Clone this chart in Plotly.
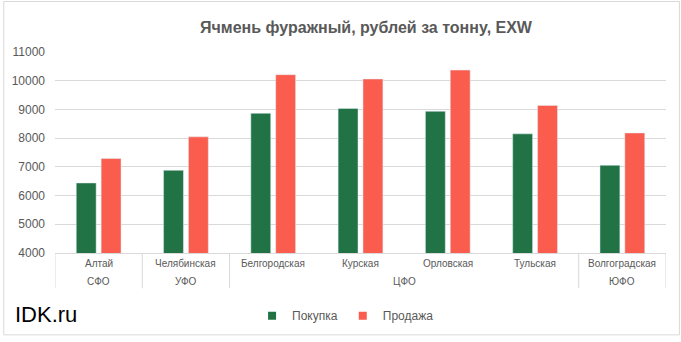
import plotly.graph_objects as go

groups = ["СФО", "УФО", "ЦФО", "ЦФО", "ЦФО", "ЦФО", "ЮФО"]
regions = ["Алтай", "Челябинская", "Белгородская", "Курская", "Орловская", "Тульская", "Волгоградская"]
buy = [6440, 6880, 8865, 9035, 8935, 8150, 7055]
sell = [7290, 8045, 10210, 10060, 10370, 9140, 8180]
series_names = ["Покупка", "Продажа"]
title_text = "Ячмень фуражный, рублей за тонну, EXW"
brand = "IDK.ru"

GREEN = "#217346"
RED = "#FA5D4E"
GRAY = "#595959"
GRID = "#d9d9d9"
FONT = "Liberation Sans"

W, H = 681, 342
L, R, T, B = 52, 15, 52, 85
pw, ph = W - L - R, H - T - B
bottom = T + ph

fig = go.Figure()
fig.add_trace(go.Bar(x=regions, y=buy, name=series_names[0],
                     marker_color=GREEN, showlegend=False))
fig.add_trace(go.Bar(x=regions, y=sell, name=series_names[1],
                     marker_color=RED, showlegend=False))
# legend entries with small square swatches
for nm, col in zip(series_names, [GREEN, RED]):
    fig.add_trace(go.Scatter(x=[None], y=[None], mode="markers", name=nm,
                             marker=dict(symbol="square", size=8, color=col)))

fig.update_layout(
    width=W, height=H,
    margin=dict(l=L, r=R, t=T, b=B),
    paper_bgcolor="white", plot_bgcolor="white",
    barmode="group", bargap=0.43, bargroupgap=0.2,
    font=dict(family=FONT, color=GRAY),
    title=dict(text="<b>" + title_text + "</b>", x=366 / W, xanchor="center",
               y=1 - 27 / H, yanchor="middle",
               font=dict(family=FONT, size=16, color=GRAY)),
    legend=dict(orientation="h", x=(344 - L) / pw, xanchor="center",
                y=-(321 - bottom) / ph, yanchor="middle",
                font=dict(family=FONT, size=12, color=GRAY),
                itemwidth=30, traceorder="normal"),
    showlegend=True,
)
fig.update_yaxes(range=[4000, 11000], dtick=1000, tickformat="d", showgrid=True,
                 gridcolor=GRID, gridwidth=1, zeroline=False, ticks="", showline=False,
                 tickfont=dict(family=FONT, size=12, color=GRAY), ticklabelstandoff=9)
fig.update_xaxes(type="category", range=[-0.5, len(regions) - 0.5],
                 showline=True, linecolor=GRID, linewidth=1, ticks="",
                 showticklabels=False)

# first row: region labels
for r in regions:
    fig.add_annotation(text=r, x=r, xref="x", yref="paper",
                       y=-(268 - bottom) / ph, yanchor="middle", showarrow=False,
                       font=dict(family=FONT, size=10, color=GRAY))

# second row: group labels and dividers
spans = []
start = 0
for i in range(1, len(groups) + 1):
    if i == len(groups) or groups[i] != groups[start]:
        spans.append((groups[start], start, i - 1))
        start = i
div_y0 = 0
div_y1 = -(293 - bottom) / ph
for g, a, b in spans:
    fig.add_annotation(text=g, x=(a + b) / 2, xref="x", yref="paper",
                       y=-(286 - bottom) / ph, yanchor="middle", showarrow=False,
                       font=dict(family=FONT, size=10, color=GRAY))
bounds = sorted({a - 0.5 for _, a, _ in spans} | {b + 0.5 for _, _, b in spans})
for xb in bounds:
    fig.add_shape(type="line", xref="x", yref="paper", x0=xb, x1=xb,
                  y0=div_y0, y1=div_y1, line=dict(color=GRID, width=1))

fig.add_annotation(text=brand, xref="paper", yref="paper",
                   x=(10 - L) / pw, xanchor="left",
                   y=-(320 - bottom) / ph, yanchor="middle",
                   showarrow=False, font=dict(family=FONT, size=22, color="black"))

fig.add_shape(type="rect", xref="paper", yref="paper",
              x0=(0.5 - L) / pw, x1=(W - 1.5 - L) / pw,
              y0=-(H - 1.5 - bottom) / ph, y1=1 + (T - 0.5) / ph,
              line=dict(color=GRID, width=1), fillcolor="rgba(0,0,0,0)", layer="below")

fig.write_html("out.html")
